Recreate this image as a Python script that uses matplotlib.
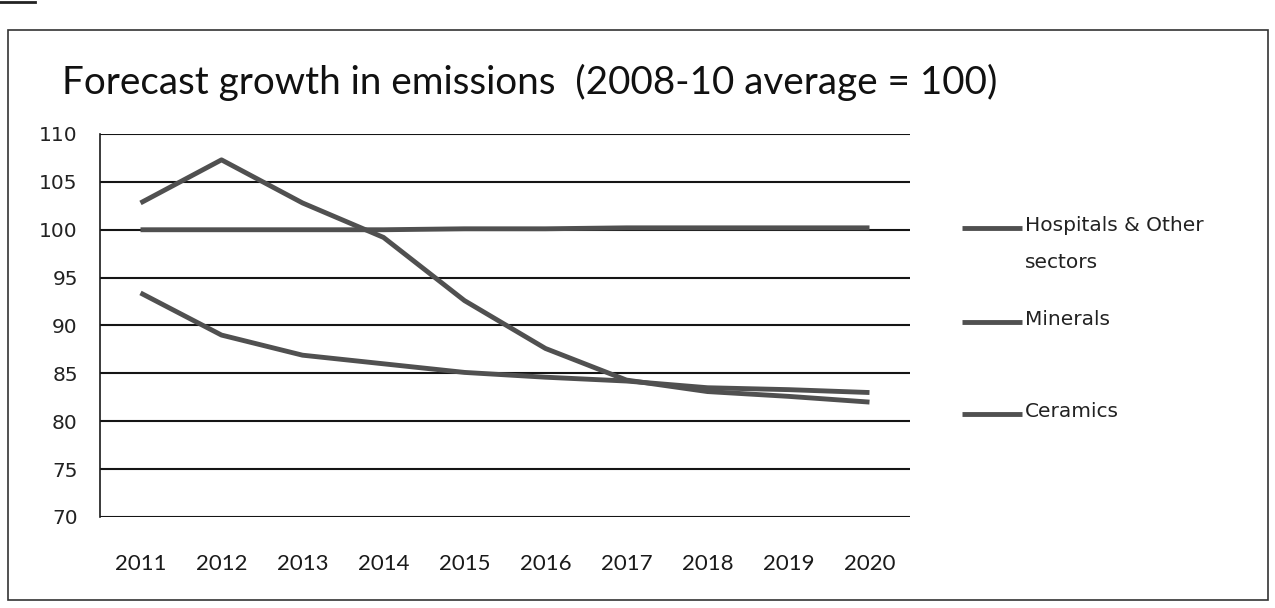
import matplotlib
matplotlib.use('Agg')
import matplotlib.pyplot as plt
from matplotlib.lines import Line2D
from matplotlib.patches import Rectangle

# data
years = ['2011', '2012', '2013', '2014', '2015', '2016', '2017', '2018', '2019', '2020']
hospitals = [100, 100, 100, 100, 100.1, 100.1, 100.2, 100.2, 100.2, 100.2]
minerals = [102.8, 107.3, 102.8, 99.2, 92.6, 87.6, 84.3, 83.1, 82.6, 82.0]
ceramics = [93.4, 89.0, 86.9, 86.0, 85.1, 84.6, 84.2, 83.5, 83.3, 83.0]
series_names = ['Hospitals & Other\nsectors', 'Minerals', 'Ceramics']
yticks = [70, 75, 80, 85, 90, 95, 100, 105, 110]

W, H = 1275, 608
fig = plt.figure(figsize=(W / 100, H / 100), dpi=100)
fig.patch.set_facecolor('white')

def fx(px):
    return px / W

def fy(py):
    return 1 - py / H

# outer chart frame
fig.add_artist(Rectangle((fx(8), fy(600)), fx(1268) - fx(8), fy(30) - fy(600),
                         transform=fig.transFigure, fill=False, lw=1.2, ec='#333333'))
fig.add_artist(Line2D([0, fx(35)], [fy(2), fy(2)], transform=fig.transFigure,
                      color='#222222', lw=2))

ax = fig.add_axes([fx(100), fy(517), fx(910) - fx(100), fy(134) - fy(517)])
x = list(range(len(years)))
line_col = '#505050'
for vals in (hospitals, minerals, ceramics):
    ax.plot(x, vals, color=line_col, lw=3.5, solid_capstyle='butt', zorder=3)

ax.set_xlim(-0.5, len(years) - 0.5)
ax.set_ylim(70, 110)
ax.set_yticks(yticks)
ax.set_xticks(x)
ax.set_xticklabels(years, fontfamily='Lato', fontsize=16, color='#1a1a1a')
ax.set_yticklabels([str(v) for v in yticks], fontfamily='DejaVu Sans', fontsize=14.5,
                   color='#222222')
ax.tick_params(axis='y', length=0, pad=16)
ax.tick_params(axis='x', length=0, pad=27)
ax.grid(axis='y', color='#151515', lw=1.5)
ax.set_axisbelow(True)
for s in ('top', 'right', 'bottom'):
    ax.spines[s].set_visible(False)
ax.spines['left'].set_color('#1a1a1a')
ax.spines['left'].set_linewidth(1.2)

# title
fig.text(fx(62), fy(94), 'Forecast growth in emissions  (2008-10 average = 100)',
         fontfamily='Lato', fontsize=27.8, color='#111111', va='baseline', ha='left')

# legend, drawn as in the original (handle next to first text line)
leg_y = [228, 322, 414]
for name, py in zip(series_names, leg_y):
    fig.add_artist(Line2D([fx(962), fx(1022)], [fy(py), fy(py)], transform=fig.transFigure,
                          color=line_col, lw=3.5, solid_capstyle='butt'))
    fig.text(fx(1025), fy(py - 12), name, fontfamily='DejaVu Sans', fontsize=14.5,
             color='#222222', va='top', ha='left', linespacing=2.2)

fig.savefig('out.png', dpi=100, facecolor='white')
